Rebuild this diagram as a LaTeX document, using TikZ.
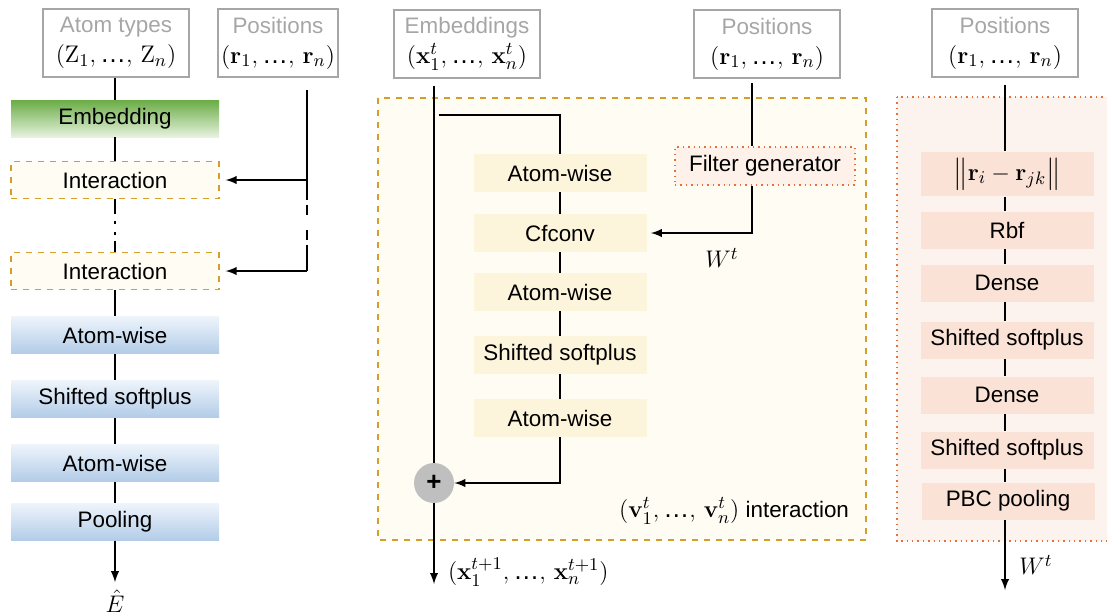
\documentclass[tikz,border=0pt]{standalone}
\usepackage[no-math]{fontspec}
\setmainfont{Liberation Sans}
\usepackage{amsmath, amssymb}
\usepackage{xcolor}
\definecolor{head-gray}{HTML}{A6A6A6}
\definecolor{embed-dark}{HTML}{6AAC45}
\definecolor{embed-light}{HTML}{E6F2DE}
\definecolor{out-top}{HTML}{EEF4FB}
\definecolor{out-bottom}{HTML}{B2CCE8}
\definecolor{gold-dash}{HTML}{D2A02A}
\definecolor{inter-fill}{HTML}{FFFCF4}
\definecolor{cf-fill}{HTML}{FCF4DB}
\definecolor{filt-line}{HTML}{E0733A}
\definecolor{filt-fill}{HTML}{FDF1E9}
\definecolor{pbc-fill}{HTML}{FDF3EE}
\definecolor{rbf-fill}{HTML}{FAE3D6}
\definecolor{plus-gray}{HTML}{BFBFBF}
\newcommand{\eldots}{\text{…}}
\newcommand{\mathbig}[1]{{\fontsize{13}{15}\selectfont$#1$}}

\begin{document}
\begin{tikzpicture}[x=0.5pt, y=-0.5pt, >=latex,
    every node/.style={font=\fontsize{11.2}{15}\selectfont},
    link/.style={line width=0.9pt},
    inputbox/.style={draw=head-gray, line width=0.8pt, align=center, minimum width=73pt, minimum height=34pt, inner sep=1pt},
    embedbox/.style={top color=embed-dark, bottom color=embed-light, minimum width=104pt, minimum height=18.5pt},
    interbox/.style={draw=gold-dash, dashed, line width=0.7pt, fill=inter-fill, minimum width=104pt, minimum height=18.5pt},
    outbox/.style={top color=out-top, bottom color=out-bottom, minimum width=104pt, minimum height=18.5pt},
    cfbox/.style={fill=cf-fill, minimum width=86.5pt, minimum height=19pt},
    filtbox/.style={draw=filt-line, dotted, line width=0.7pt, fill=filt-fill, minimum width=90pt, minimum height=19pt},
    rbfbox/.style={fill=rbf-fill, minimum width=86.5pt, minimum height=18.5pt},
    plusnode/.style={circle, fill=plus-gray, minimum size=20pt, inner sep=0pt, font=\fontsize{13}{13}\selectfont\bfseries},
    gapline/.style={link, dash pattern=on 10pt off 2.5pt on 5pt off 7.5pt on 5pt off 2.5pt on 14pt},
    dotline/.style={link, dash pattern=on 7.5pt off 3.5pt on 1.5pt off 4pt on 1.5pt off 3pt on 8pt}]
  \useasboundingbox (0,0) rectangle (1107,612);

  % panels
  \draw[gold-dash, dashed, line width=0.7pt, fill=inter-fill] (378,98) rectangle (866,540);
  \draw[filt-line, dotted, line width=0.7pt, fill=pbc-fill] (897,97) rectangle (1112,541);

  % left: whole network
  \node[inputbox] (atomT) at (116,43) {\textcolor{head-gray}{Atom types}\\ \mathbig{(\mathrm{Z}_1,\eldots,\,\mathrm{Z}_n)}};
  \node[inputbox, minimum width=60pt] (posL) at (278,43) {\textcolor{head-gray}{Positions}\\ \mathbig{(\mathbf{r}_1,\eldots,\,\mathbf{r}_n)}};
  \node[embedbox] (embed) at (115,118.5) {Embedding};
  \node[interbox] (inter1) at (115,180) {Interaction};
  \node[interbox] (inter2) at (115,271) {Interaction};
  \node[outbox] (aw1) at (115,335) {Atom-wise};
  \node[outbox] (ssp) at (115,399) {Shifted softplus};
  \node[outbox] (aw2) at (115,463) {Atom-wise};
  \node[outbox] (pool) at (115,522) {Pooling};
  \node[inner sep=0pt] (Ehat) at (115,601) {\mathbig{\hat{E}}};
  \coordinate (pL) at (307,90);
  \coordinate (jL1) at (pL |- inter1.east);
  \coordinate (jL2) at (pL |- inter2.east);

  \draw[link] (atomT.south -| embed.north) -- (embed.north);
  \draw[link] (embed) -- (inter1);
  \draw[dotline] (inter1) -- (inter2);
  \draw[link] (inter2) -- (aw1);
  \draw[link] (aw1) -- (ssp);
  \draw[link] (ssp) -- (aw2);
  \draw[link] (aw2) -- (pool);
  \draw[link, ->, shorten >=3.5pt] (pool) -- (Ehat);
  \draw[link, ->, shorten >=3pt] (pL) -- (jL1) -- (inter1.east);
  \draw[gapline] (jL1) -- (jL2);
  \draw[link, ->, shorten >=3pt] (jL2) -- (inter2.east);

  % middle: interaction block
  \node[inputbox] (embS) at (467,44) {\textcolor{head-gray}{Embeddings}\\ \mathbig{(\mathbf{x}_1^t,\eldots,\,\mathbf{x}_n^t)}};
  \node[inputbox] (posM) at (767,44) {\textcolor{head-gray}{Positions}\\ \mathbig{(\mathbf{r}_1,\eldots,\,\mathbf{r}_n)}};
  \node[cfbox] (mAw1) at (560,173) {Atom-wise};
  \node[cfbox] (cf) at (560,233) {Cfconv};
  \node[cfbox] (mAw2) at (560,292) {Atom-wise};
  \node[cfbox] (mSsp) at (560,355) {Shifted softplus};
  \node[cfbox] (mAw3) at (560,418) {Atom-wise};
  \node[filtbox] (filt) at (765,166) {Filter generator};
  \node[plusnode] (plus) at (434,483) {+};
  \node (wM) at (722,258) {\mathbig{W^t}};
  \node[anchor=east] (vLab) at (856,511) {\mathbig{(\mathbf{v}_1^t,\eldots,\,\mathbf{v}_n^t)} interaction};
  \coordinate (eM) at (434,86);
  \coordinate (bM) at (439,115);
  \coordinate (pM) at (752,83);
  \coordinate (xOut) at (434,584);
  \node[anchor=west] (xLab) at (441,572) {\mathbig{(\mathbf{x}_1^{t+1},\eldots,\,\mathbf{x}_n^{t+1})}};

  \draw[link] (eM) -- (plus);
  \draw[link] (bM) -| (mAw1);
  \draw[link] (mAw1) -- (cf);
  \draw[link] (cf) -- (mAw2);
  \draw[link] (mAw2) -- (mSsp);
  \draw[link] (mSsp) -- (mAw3);
  \draw[link, ->] (mAw3) |- (plus);
  \draw[link, ->] (plus) -- (xOut);
  \draw[link] (pM) -- (pM |- filt.north);
  \draw[link, ->, shorten >=2pt] (pM |- filt.south) |- (cf.east);

  % right: filter generator
  \node[inputbox] (posR) at (1005,43) {\textcolor{head-gray}{Positions}\\ \mathbig{(\mathbf{r}_1,\eldots,\,\mathbf{r}_n)}};
  \node[rbfbox] (dist) at (1007,174) {\mathbig{\big\|\mathbf{r}_i-\mathbf{r}_{jk}\big\|}};
  \node[rbfbox] (rbf) at (1007,230) {Rbf};
  \node[rbfbox] (dense1) at (1007,283) {Dense};
  \node[rbfbox] (rSsp1) at (1007,340) {Shifted softplus};
  \node[rbfbox] (dense2) at (1007,395) {Dense};
  \node[rbfbox] (rSsp2) at (1007,450) {Shifted softplus};
  \node[rbfbox] (pbc) at (1008,501) {PBC pooling};
  \node (wR) at (1036,565) {\mathbig{W^t}};
  \coordinate (pR) at (1005,85);
  \coordinate (wOut) at (1005,590);

  \draw[link] (pR) -- (pR |- dist.north);
  \draw[link] (pR |- dist.south) -- (pR |- rbf.north);
  \draw[link] (pR |- rbf.south) -- (pR |- dense1.north);
  \draw[link] (pR |- dense1.south) -- (pR |- rSsp1.north);
  \draw[link] (pR |- rSsp1.south) -- (pR |- dense2.north);
  \draw[link] (pR |- dense2.south) -- (pR |- rSsp2.north);
  \draw[link] (pR |- rSsp2.south) -- (pR |- pbc.north);
  \draw[link, ->] (pR |- pbc.south) -- (wOut);
\end{tikzpicture}
\end{document}
